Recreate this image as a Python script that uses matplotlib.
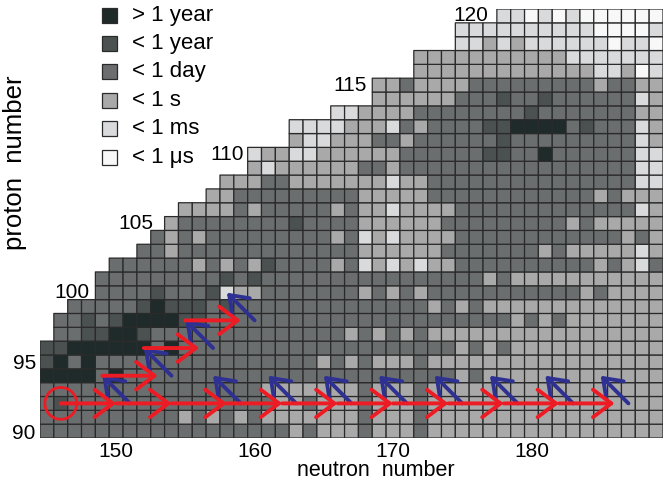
import numpy as np
import matplotlib
matplotlib.use("Agg")
import matplotlib.pyplot as plt
from matplotlib.colors import ListedColormap
from matplotlib.patches import Rectangle, Circle

plt.rcParams["font.family"] = ["Liberation Sans", "DejaVu Sans"]

# half-life classes (1 = darkest ... 6 = lightest)
class_labels = ["> 1 year", "< 1 year", "< 1 day", "< 1 s", "< 1 ms", "< 1 \u03bcs"]
class_colors = ["#1f2a2a", "#4b5151", "#6b6e6f", "#a9a9a9", "#d9dadc", "#f8f8f8"]

# proton number, first neutron number of the row, half-life class per nuclide
z_numbers = [120, 119, 118, 117, 116, 115, 114, 113, 112, 111, 110, 109, 108, 107, 106,
             105, 104, 103, 102, 101, 100, 99, 98, 97, 96, 95, 94, 93, 92, 91, 90]
n_first = [178, 175, 175, 172, 172, 169, 169, 166, 163, 163, 160, 160, 158, 157, 155,
           154, 153, 152, 150, 149, 149, 147, 146, 146, 145, 145, 145, 145, 145, 145, 145]
halflife_rows = [
    "556565666666",
    "555555555566665",
    "554545555556556",
    "44444444444" "5555555",
    "4444444444444" "55465",
    "443444" "433333333343344",
    "444444" "333233233333354",
    "554444333" "333332333333344",
    "555544453433" "332211113233354",
    "455444334333" "333233333333354",
    "544" "554444443333" "332233133333355",
    "454" "444443343333" "333333333333355",
    "44433" "444444454433" "333333333333355",
    "443333" "333334444433" "333333333343444",
    "44443433" "333434454444" "333333333333354",
    "433333" "333233334444443" "333333334344444",
    "3434333" "333333435454444" "333333333333434",
    "33433333" "333333334444443" "333333434444454",
    "3333334343" "423333435454544" "333333333343453",
    "33333333323" "233333333333333" "334344444444444",
    "33332333254" "433333334343433" "333333333434444",
    "3333321222323" "333333333333343" "434444444444444",
    "33232111122333" "333333333333333" "333343434444444",
    "33221123333333" "333333343434344" "444444444444444",
    "221111113133333" "333333333333333" "434344444444444",
    "213133333333333" "333334343444344" "444444444444444",
    "111131333333333" "333333333333333" "434444444444444",
    "333333333333333" "344444443444344" "444444444444444",
    "323333333333333" "334434443444344" "444444444444444",
    "333333333343434" "344444443444344" "444444444444444",
    "333333333333333" "333434443444344" "444444444444444",
]

# neutron-capture (red) and beta-decay (blue) arrows: (N start, Z start, N end, Z end)
red_arrows = [(146, 92, 150, 92), (150, 92, 154, 92), (154, 92, 158, 92), (158, 92, 162, 92),
              (162, 92, 166, 92), (166, 92, 170, 92), (170, 92, 174, 92), (174, 92, 178, 92),
              (178, 92, 182, 92), (182, 92, 186, 92),
              (149, 94, 153, 94), (152, 96, 156, 96), (155, 98, 159, 98)]
blue_arrows = [(151, 92, 149, 94), (154, 94, 152, 96), (157, 96, 155, 98), (160, 98, 158, 100),
               (159, 92, 157, 94), (163, 92, 161, 94), (167, 92, 165, 94), (171, 92, 169, 94),
               (175, 92, 173, 94), (179, 92, 177, 94), (183, 92, 181, 94), (187, 92, 185, 94)]

# Z labels along the staircase edge: (text, N position of right edge, Z)
edge_labels = [("100", 148.1, 100), ("105", 152.7, 105), ("110", 159.2, 110),
               ("115", 168.1, 115), ("120", 176.9, 120)]

n_min, n_max, z_min, z_max = 145, 189, 90, 120

grid = np.full((z_max - z_min + 1, n_max - n_min + 1), np.nan)
for z, n0, row in zip(z_numbers, n_first, halflife_rows):
    for k, ch in enumerate(row):
        grid[z - z_min, n0 - n_min + k] = int(ch)

fig = plt.figure(figsize=(6.67, 4.87), dpi=100)
ax = fig.add_axes([40 / 667, 49 / 487, 623 / 667, 429 / 487])

xe = np.arange(n_min - 0.5, n_max + 1.5)
ye = np.arange(z_min - 0.5, z_max + 1.5)
ax.pcolor(xe, ye, np.ma.masked_invalid(grid), cmap=ListedColormap(class_colors),
          vmin=0.5, vmax=6.5, edgecolors="#2a2a2a", linewidth=0.9)

for x0, y0, x1, y1 in blue_arrows:
    ax.annotate("", xy=(x1, y1), xytext=(x0, y0),
                arrowprops=dict(arrowstyle="->,head_length=0.55,head_width=0.4",
                                color="#2e3192", lw=2.8, mutation_scale=22,
                                shrinkA=0, shrinkB=0), zorder=3)
for x0, y0, x1, y1 in red_arrows:
    ax.annotate("", xy=(x1, y1), xytext=(x0, y0),
                arrowprops=dict(arrowstyle="->,head_length=0.6,head_width=0.45",
                                color="#ed1c24", lw=2.8, mutation_scale=22,
                                shrinkA=0, shrinkB=0), zorder=4)
ax.add_patch(Circle((146, 92), 1.15, fill=False, edgecolor="#ed1c24", lw=2, zorder=5))

for txt, xn, z in edge_labels:
    ax.text(xn, z, txt, ha="right", va="center", fontsize=15)

ax.set_xlim(n_min - 0.5, n_max + 0.5)
ax.set_ylim(z_min - 0.5, z_max + 0.5)
ax.set_xticks([150, 160, 170, 180])
ax.set_yticks([90, 95])
ax.tick_params(length=0, labelsize=15, pad=3)
for s in ax.spines.values():
    s.set_visible(False)

fig.text(376 / 667, 1 - 470 / 487, "neutron  number", ha="center", va="center", fontsize=15.5)
fig.text(15 / 667, 1 - 163 / 487, "proton  number", ha="center", va="center",
         rotation=90, fontsize=18.5)

# legend squares and labels in the empty upper-left corner
for i, (c, lab) in enumerate(zip(class_colors, class_labels)):
    yc = 1 - (15 + 28.4 * i) / 487
    fig.patches.append(Rectangle((102 / 667, yc - 7.5 / 487), 15 / 667, 15 / 487,
                                 transform=fig.transFigure, facecolor=c,
                                 edgecolor="#2a2a2a", lw=0.9))
    fig.text(132 / 667, yc, lab, ha="left", va="center", fontsize=16)

fig.savefig("out.png", dpi=100)
